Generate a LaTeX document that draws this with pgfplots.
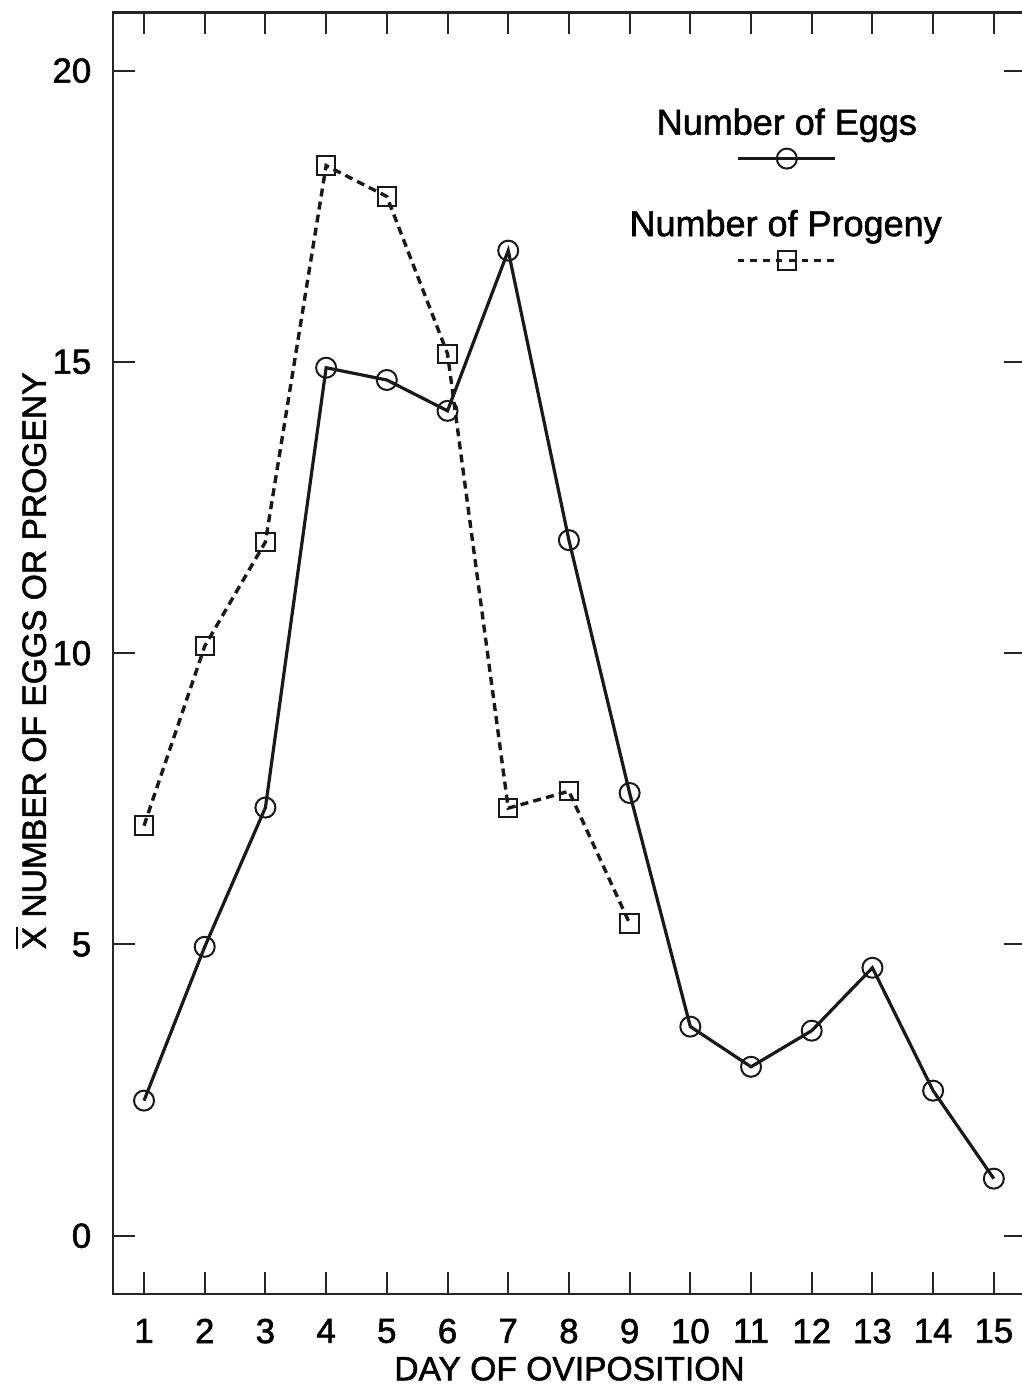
\documentclass[border=0pt]{standalone}
\usepackage{pgfplots}
\pgfplotsset{compat=1.18}
\usepackage{fontspec}
\setmainfont{Liberation Sans}[FakeBold=1.6]
\begin{document}
\begin{tikzpicture}
\begin{axis}[
  scale only axis,
  width=228.25pt, height=320.4pt,
  xmin=0.489, xmax=15.53, ymin=-1, ymax=21,
  xtick={1,...,15}, ytick={0,5,10,15,20},
  tick align=inside,
  major tick length=5.5pt,
  tick style={black!85, line width=0.5pt},
  axis line style={black!85, line width=0.6pt},
  /pgf/number format/assume math mode=true,
  ticklabel style={font=\fontsize{8.7}{10}\selectfont, inner sep=0pt},
  xticklabel style={anchor=north, yshift=-6pt},
  yticklabel style={anchor=east, xshift=-5.25pt},
  xlabel={DAY OF OVIPOSITION},
  ylabel={\(\overline{\mbox{X}}\) NUMBER OF EGGS OR PROGENY},
  label style={font=\fontsize{8.4}{10}\selectfont, inner sep=0pt},
  xlabel style={at={(axis description cs:0.5,-0.0484)}, anchor=north},
  ylabel style={at={(axis description cs:-0.0723,0.494)}, anchor=south},
  clip=false,
]
\addplot[black!90, line width=0.8pt, mark=o,
  mark options={solid, line width=0.5pt, fill=none, scale=1.25}]
  coordinates {
  (1,2.32)(2,4.96)(3,7.35)(4,14.9)(5,14.69)(6,14.16)(7,16.91)(8,11.94)
  (9,7.6)(10,3.59)(11,2.9)(12,3.52)(13,4.6)(14,2.49)(15,0.98)};
\addplot[black!90, line width=0.85pt, dash pattern=on 2pt off 1.3pt, mark=square,
  mark options={solid, line width=0.5pt, fill=none, scale=1.15}]
  coordinates {
  (1,7.04)(2,10.12)(3,11.91)(4,18.37)(5,17.84)(6,15.14)(7,7.34)(8,7.63)(9,5.36)};
% legend samples
\addplot[black!90, line width=0.8pt, mark=o, mark indices={2},
  mark options={solid, line width=0.5pt, fill=none, scale=1.25}]
  coordinates {(10.78,18.49)(11.59,18.49)(12.38,18.49)};
\addplot[black!90, line width=0.85pt, dash pattern=on 1.6pt off 1.6pt, mark=square, mark indices={2},
  mark options={solid, line width=0.5pt, fill=none, scale=1.15}]
  coordinates {(10.78,16.74)(11.59,16.74)(12.38,16.74)};
\node[font=\fontsize{9}{11}\selectfont, inner sep=0pt] at (axis cs:11.59,19.06) {Number of Eggs};
\node[font=\fontsize{9}{11}\selectfont, inner sep=0pt] at (axis cs:11.57,17.32) {Number of Progeny};
\end{axis}
\pgfresetboundingbox
\path[use as bounding box] (current axis.south west) ++(-28.25pt,-24pt) rectangle ++(255.25pt,347.5pt);
\end{tikzpicture}
\end{document}
